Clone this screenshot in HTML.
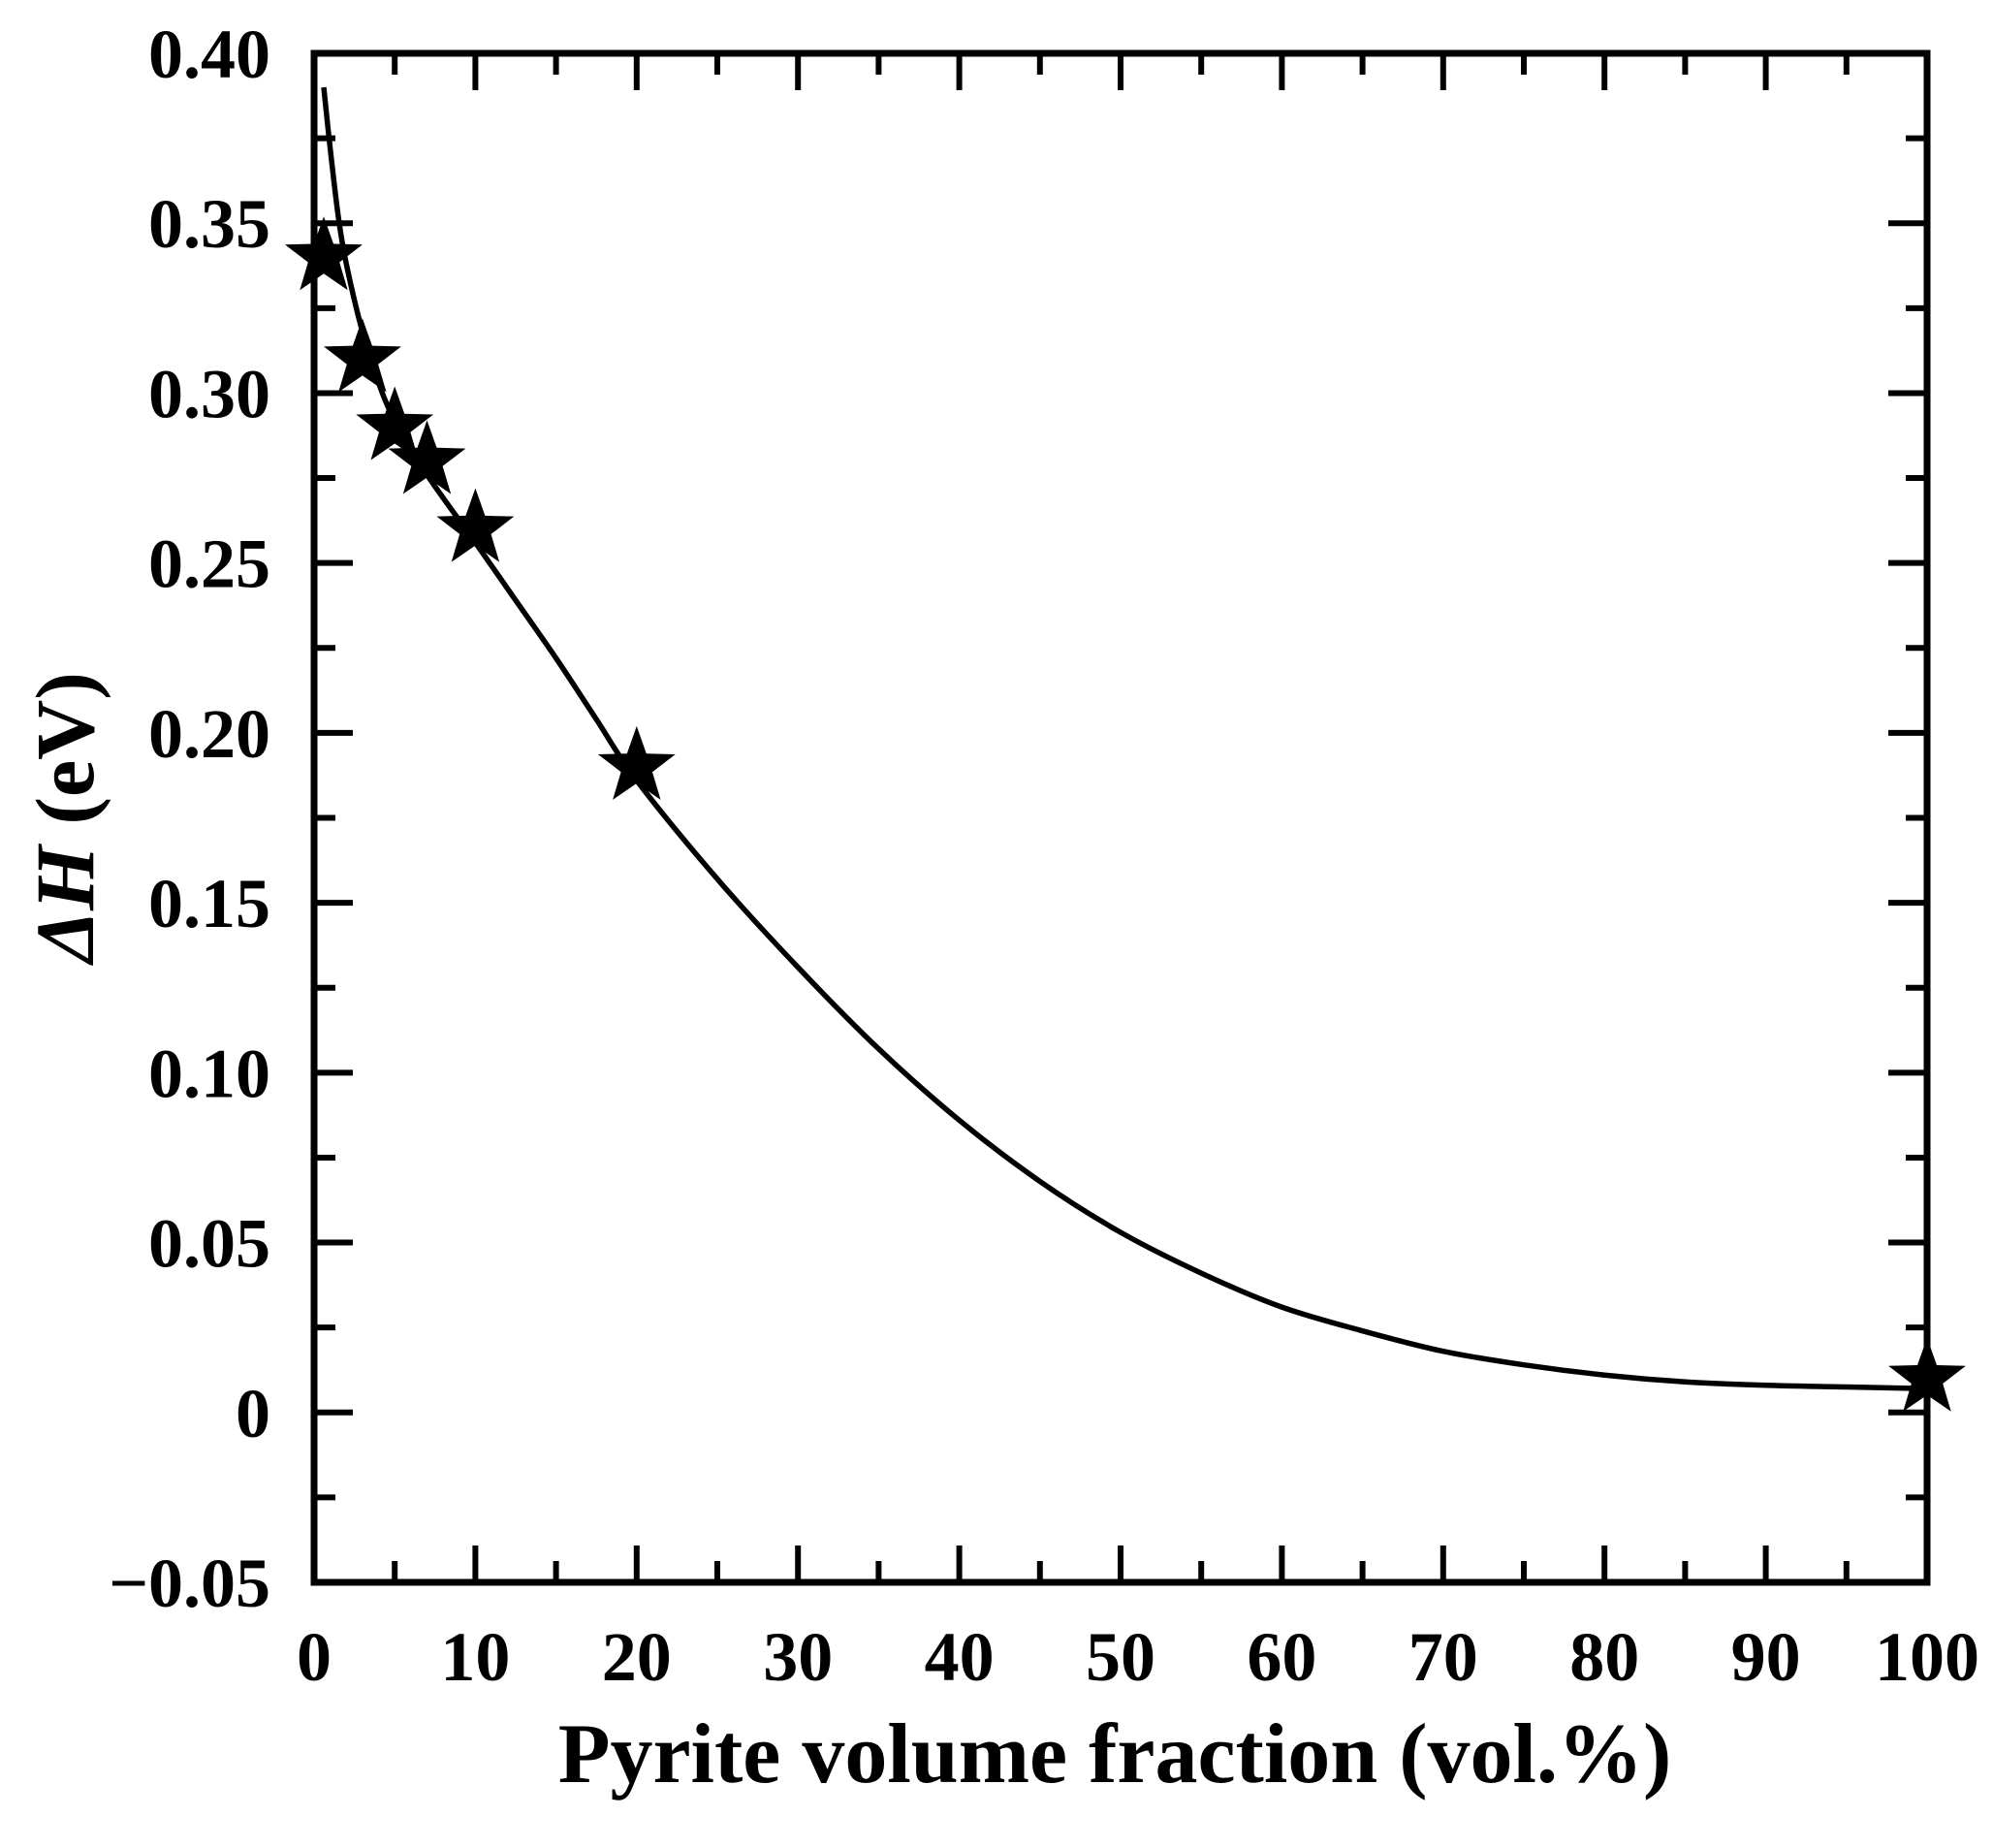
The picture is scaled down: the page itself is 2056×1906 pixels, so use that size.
<!DOCTYPE html>
<html><head><meta charset="utf-8"><style>
html,body{margin:0;padding:0;background:#fff;}
svg text{font-family:"Liberation Serif",serif;font-weight:bold;fill:#000;}
</style></head><body>
<svg id="chart" width="2056" height="1901" viewBox="0 0 2056 1901" xmlns="http://www.w3.org/2000/svg">
<g id="ticks"></g>
<path id="curve" fill="none" stroke="#000" stroke-width="5.5"/>
<g id="stars"></g>
<rect x="324" y="55" width="1664" height="1577" fill="none" stroke="#000" stroke-width="7"/>
<g id="labels"></g>
<text x="1150" y="1838" font-size="88" text-anchor="middle">Pyrite volume fraction (vol.%)</text>
<text transform="translate(96,843) rotate(-90)" font-size="86" text-anchor="middle"><tspan font-style="italic">ΔH</tspan> (eV)</text>
</svg>
<script>
const xTicks=[0,10,20,30,40,50,60,70,80,90,100];
const yTicks=[-0.05,0,0.05,0.10,0.15,0.20,0.25,0.30,0.35,0.40];
const yTickLabels=["\u22120.05","0","0.05","0.10","0.15","0.20","0.25","0.30","0.35","0.40"];
const pointX=[0.6,3,5,7,10,20,100];
const pointY=[0.34,0.31,0.29,0.28,0.26,0.19,0.01];
const curveX=[0.6,1,1.5,2,3,4,5,7,10,12.5,15,17.5,20,25,30,35,40,45,50,55,60,65,70,75,80,85,90,95,100];
const curveY=[0.39,0.372,0.352,0.338,0.318,0.303,0.292,0.276,0.256,0.239,0.222,0.204,0.186,0.157,0.131,0.107,0.086,0.068,0.053,0.041,0.031,0.024,0.018,0.014,0.011,0.009,0.008,0.0075,0.007];
const L=324,R=1988,T=55,B=1632;
const sx=v=>L+(v-0)/(100-0)*(R-L);
const sy=v=>B-(v-(-0.05))/(0.40-(-0.05))*(B-T);
const NS="http://www.w3.org/2000/svg";
const tg=document.getElementById('ticks'),lg=document.getElementById('labels'),sg=document.getElementById('stars');
function line(x1,y1,x2,y2,w){const l=document.createElementNS(NS,'line');l.setAttribute('x1',x1);l.setAttribute('y1',y1);l.setAttribute('x2',x2);l.setAttribute('y2',y2);l.setAttribute('stroke','#000');l.setAttribute('stroke-width',w);


tg.appendChild(l);}
for(let v=0;v<=100;v+=5){const x=sx(v),len=(v%10===0)?38:22;line(x,B,x,B-len,6);line(x,T,x,T+len,6);}
for(let i=0;i<=18;i++){const v=-0.05+i*0.025,y=sy(v),len=(i%2===0)?40:22;line(L,y,L+len,y,6);line(R,y,R-len,y,6);}
xTicks.forEach(v=>{const t=document.createElementNS(NS,'text');t.setAttribute('x',sx(v));t.setAttribute('y',1733);t.setAttribute('font-size','72');t.setAttribute('text-anchor','middle');t.textContent=v;


lg.appendChild(t);});
yTicks.forEach((v,i)=>{const t=document.createElementNS(NS,'text');t.setAttribute('x',279);t.setAttribute('y',sy(v)+25);t.setAttribute('font-size','72');t.setAttribute('text-anchor','end');t.textContent=yTickLabels[i];


lg.appendChild(t);});
const P=curveX.map((x,i)=>[sx(x),sy(curveY[i])]);
let d='M'+P[0][0]+','+P[0][1];
for(let i=0;i<P.length-1;i++){const p0=P[Math.max(0,i-1)],p1=P[i],p2=P[i+1],p3=P[Math.min(P.length-1,i+2)];
d+=' C'+(p1[0]+(p2[0]-p0[0])/6)+','+(p1[1]+(p2[1]-p0[1])/6)+' '+(p2[0]-(p3[0]-p1[0])/6)+','+(p2[1]-(p3[1]-p1[1])/6)+' '+p2[0]+','+p2[1];}
document.getElementById('curve').setAttribute('d',d);
pointX.forEach((xv,i)=>{const cx=sx(xv),cy=sy(pointY[i]);let pts=[];for(let k=0;k<10;k++){const r=k%2?17:42,a=-Math.PI/2+k*Math.PI/5;pts.push((cx+r*Math.cos(a)).toFixed(1)+','+(cy+r*Math.sin(a)).toFixed(1));}
const s=document.createElementNS(NS,'polygon');s.setAttribute('points',pts.join(' '));s.setAttribute('fill','#000');


sg.appendChild(s);});
</script>
</body></html>
